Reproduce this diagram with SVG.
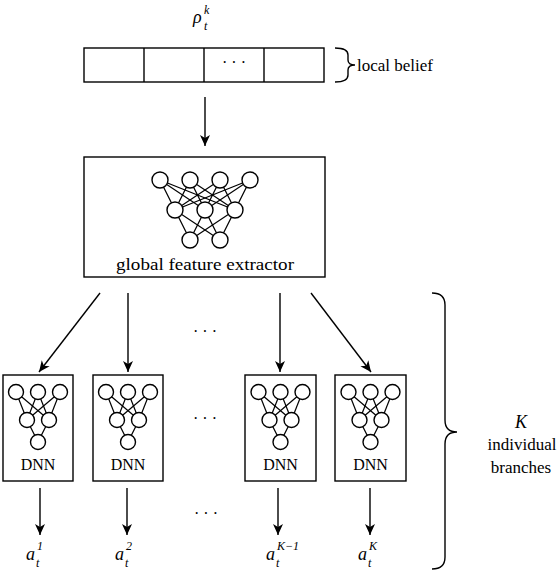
<svg xmlns="http://www.w3.org/2000/svg" width="558" height="572" viewBox="0 0 558 572">
<style>
.ln{stroke:#000;stroke-width:1.4;fill:none}
.box{stroke:#000;stroke-width:1.4;fill:#fff}
.nd{stroke:#000;stroke-width:1.4;fill:#fff}
.ed{stroke:#000;stroke-width:1.2}
.t{font-family:"Liberation Serif","Times New Roman",serif;fill:#000}
.m{font-family:"Liberation Serif","Times New Roman",serif;font-style:italic;fill:#000}
.ar{stroke:#000;stroke-width:1.4;fill:none;marker-end:url(#ah)}
</style>
<defs>
<marker id="ah" markerUnits="userSpaceOnUse" markerWidth="14" markerHeight="14" viewBox="-12 -6 14 12" refX="0" refY="0" orient="auto">
<path d="M0,0 L-11,-5 L-8,0 L-11,5 Z" fill="#000"/>
</marker>
<g id="dnnnet">
<g class="ed">
<line x1="-22" y1="392" x2="-11" y2="420"/><line x1="-22" y1="392" x2="11" y2="420"/>
<line x1="0" y1="392" x2="-11" y2="420"/><line x1="0" y1="392" x2="11" y2="420"/>
<line x1="22" y1="392" x2="-11" y2="420"/><line x1="22" y1="392" x2="11" y2="420"/>
<line x1="-11" y1="420" x2="0" y2="442"/><line x1="11" y1="420" x2="0" y2="442"/>
</g>
<circle class="nd" cx="-22" cy="392" r="7.5"/><circle class="nd" cx="0" cy="392" r="7.5"/><circle class="nd" cx="22" cy="392" r="7.5"/>
<circle class="nd" cx="-11" cy="420" r="7.5"/><circle class="nd" cx="11" cy="420" r="7.5"/>
<circle class="nd" cx="0" cy="442" r="7.5"/>
</g>
</defs>
<rect width="558" height="572" fill="#fff"/>

<g id="rho">
<text class="m" x="193" y="23" font-size="18">ρ</text>
<text class="m" x="204" y="14" font-size="12">k</text>
<text class="m" x="204" y="30" font-size="12">t</text>
</g>

<g id="belief">
<rect class="box" x="84" y="48" width="240" height="34"/>
<line class="ln" x1="144" y1="48" x2="144" y2="82"/>
<line class="ln" x1="204" y1="48" x2="204" y2="82"/>
<line class="ln" x1="264" y1="48" x2="264" y2="82"/>
<text class="t" x="234" y="68" font-size="16" text-anchor="middle">· · ·</text>
<path class="ln" d="M335,48 Q348,48 348,55 L348,60 Q348,65 355,65 Q348,65 348,70 L348,75 Q348,82 335,82"/>
<text class="t" x="357" y="71" font-size="17">local belief</text>
</g>

<g id="global">
<rect class="box" x="84" y="157" width="241" height="120"/>
<g class="ed">
<line x1="160" y1="180" x2="175" y2="210"/><line x1="160" y1="180" x2="205" y2="210"/><line x1="160" y1="180" x2="235" y2="210"/>
<line x1="190" y1="180" x2="175" y2="210"/><line x1="190" y1="180" x2="205" y2="210"/><line x1="190" y1="180" x2="235" y2="210"/>
<line x1="220" y1="180" x2="175" y2="210"/><line x1="220" y1="180" x2="205" y2="210"/><line x1="220" y1="180" x2="235" y2="210"/>
<line x1="250" y1="180" x2="175" y2="210"/><line x1="250" y1="180" x2="205" y2="210"/><line x1="250" y1="180" x2="235" y2="210"/>
<line x1="175" y1="210" x2="190" y2="240"/><line x1="175" y1="210" x2="220" y2="240"/>
<line x1="205" y1="210" x2="190" y2="240"/><line x1="205" y1="210" x2="220" y2="240"/>
<line x1="235" y1="210" x2="190" y2="240"/><line x1="235" y1="210" x2="220" y2="240"/>
</g>
<circle class="nd" cx="160" cy="180" r="8"/><circle class="nd" cx="190" cy="180" r="8"/><circle class="nd" cx="220" cy="180" r="8"/><circle class="nd" cx="250" cy="180" r="8"/>
<circle class="nd" cx="175" cy="210" r="8"/><circle class="nd" cx="205" cy="210" r="8"/><circle class="nd" cx="235" cy="210" r="8"/>
<circle class="nd" cx="190" cy="240" r="8"/><circle class="nd" cx="220" cy="240" r="8"/>
<text class="t" x="205" y="270" font-size="16" text-anchor="middle" textLength="178" lengthAdjust="spacingAndGlyphs">global feature extractor</text>
</g>

<g id="dnn1">
<rect class="box" x="3" y="375" width="70" height="106"/>
<use href="#dnnnet" x="38"/>
<text class="t" x="38" y="470" font-size="16" text-anchor="middle">DNN</text>
</g>
<g id="dnn2">
<rect class="box" x="93" y="375" width="70" height="106"/>
<use href="#dnnnet" x="128"/>
<text class="t" x="128" y="470" font-size="16" text-anchor="middle">DNN</text>
</g>
<g id="dnn3">
<rect class="box" x="245" y="375" width="71" height="106"/>
<use href="#dnnnet" x="280.5"/>
<text class="t" x="280.5" y="470" font-size="16" text-anchor="middle">DNN</text>
</g>
<g id="dnn4">
<rect class="box" x="335" y="375" width="71" height="106"/>
<use href="#dnnnet" x="370.5"/>
<text class="t" x="370.5" y="470" font-size="16" text-anchor="middle">DNN</text>
</g>

<g id="connectors">
<line class="ar" x1="205" y1="97" x2="205" y2="146"/>
<line class="ar" x1="100" y1="293" x2="39" y2="372"/>
<line class="ar" x1="128" y1="293" x2="128" y2="372"/>
<line class="ar" x1="280" y1="293" x2="280" y2="372"/>
<line class="ar" x1="311" y1="293" x2="371" y2="372"/>
<line class="ar" x1="40" y1="488" x2="40" y2="535"/>
<line class="ar" x1="127" y1="488" x2="127" y2="535"/>
<line class="ar" x1="278" y1="488" x2="278" y2="535"/>
<line class="ar" x1="370" y1="488" x2="370" y2="535"/>
</g>

<g id="dots">
<text class="t" x="205" y="337" font-size="16" text-anchor="middle">· · ·</text>
<text class="t" x="205" y="424" font-size="16" text-anchor="middle">· · ·</text>
<text class="t" x="206" y="519" font-size="16" text-anchor="middle">· · ·</text>
</g>

<g id="outputs">
<text class="m" x="26" y="560" font-size="18">a</text><text class="m" x="37" y="550" font-size="12">1</text><text class="m" x="36" y="567" font-size="12">t</text>
<text class="m" x="115" y="560" font-size="18">a</text><text class="m" x="126" y="550" font-size="12">2</text><text class="m" x="125" y="567" font-size="12">t</text>
<text class="m" x="266" y="560" font-size="18">a</text><text class="m" x="277" y="550" font-size="12">K−1</text><text class="m" x="276" y="567" font-size="12">t</text>
<text class="m" x="358" y="560" font-size="18">a</text><text class="m" x="369" y="550" font-size="12">K</text><text class="m" x="368" y="567" font-size="12">t</text>
</g>

<g id="branches">
<path class="ln" d="M432,293 Q445,293 445,305 L445,420 Q445,432 457,432 Q445,432 445,444 L445,557 Q445,569 432,569"/>
<text class="m" x="521" y="428" font-size="18" text-anchor="middle">K</text>
<text class="t" x="522" y="450" font-size="17" text-anchor="middle">individual</text>
<text class="t" x="521" y="473" font-size="17" text-anchor="middle">branches</text>
</g>
</svg>
